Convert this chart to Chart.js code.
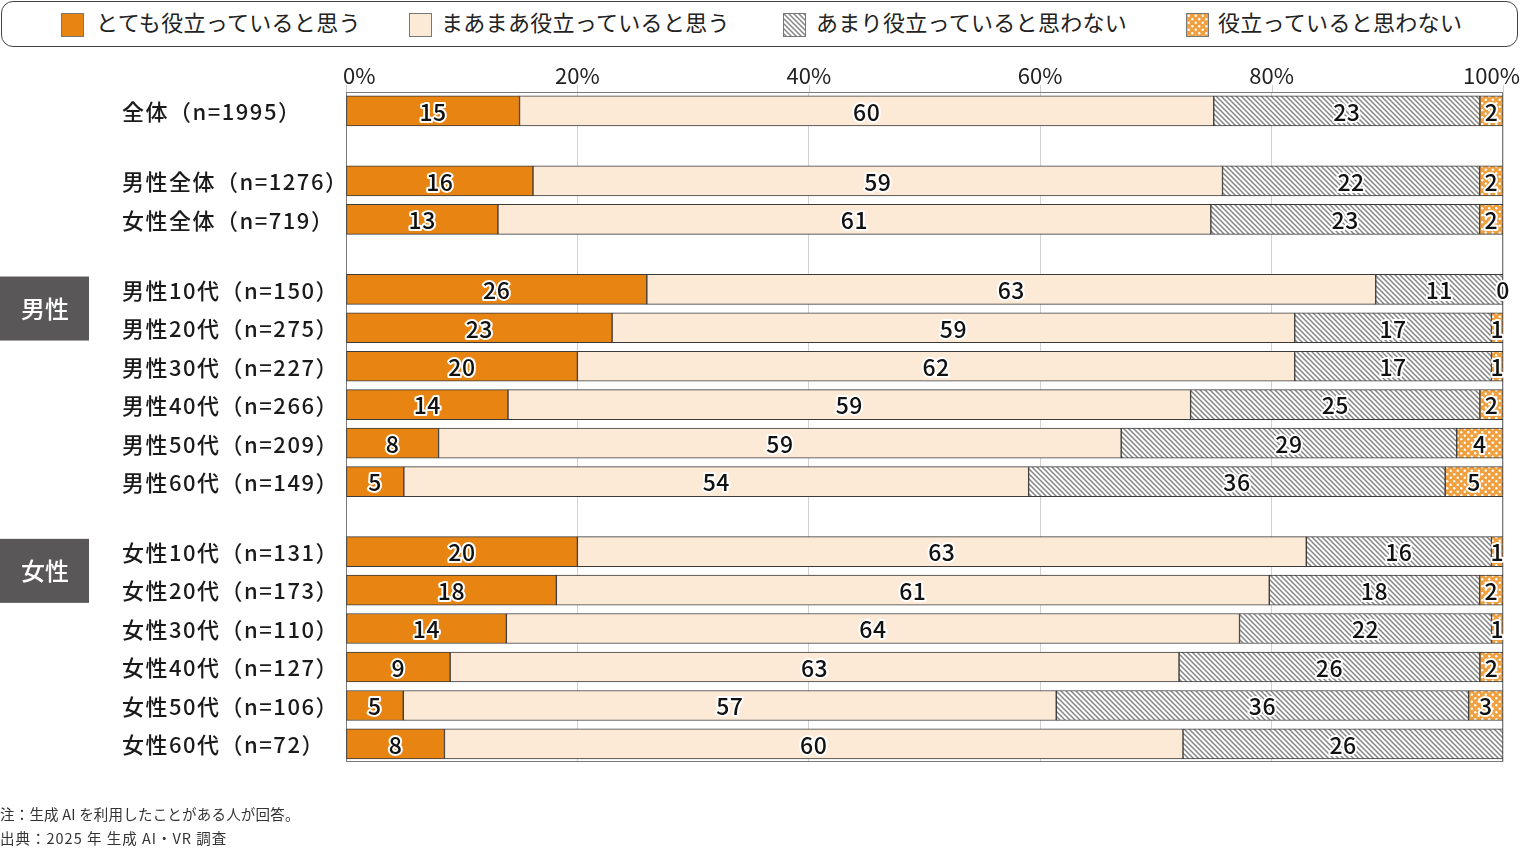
<!DOCTYPE html>
<html lang="ja">
<head>
<meta charset="utf-8">
<title>生成AIの役立ち度</title>
<script src="https://cdn.jsdelivr.net/npm/chart.js@4.4.1/dist/chart.umd.min.js"></script>
<style>
  body { margin: 0; background: #fff; font-family: "Noto Sans CJK JP", "Noto Sans", sans-serif; color: #222; }
  #wrap { position: absolute; left: 0; top: 0; width: 1521px; height: 848px; }
  #legend { position: absolute; left: 1px; top: 1px; width: 1515px; height: 44px; border: 1px solid #444; border-radius: 12px; background: #fff; }
  .sw { position: absolute; top: 11px; width: 21px; height: 22px; border: 1px solid #777; }
  .lt { position: absolute; top: 3px; font-size: 22px; line-height: 32px; white-space: nowrap; letter-spacing: 0.3px; }
  #note { position: absolute; left: 0; top: 802px; font-size: 14.5px; line-height: 24px; color: #333; letter-spacing: 0.2px; }
  #note span { letter-spacing: 1px; }
</style>
</head>
<body>
<div id="wrap"><canvas id="chart"></canvas></div>
<div id="legend"></div>
<div id="note">注：生成 AI を利用したことがある人が回答。<br><span>出典：2025 年 生成 AI・VR 調査</span></div>
<script>
// data (printed percentages, each row drawn as a share of its total)
const categories = [
  "全体（n=1995）",
  "男性全体（n=1276）", "女性全体（n=719）",
  "男性10代（n=150）", "男性20代（n=275）", "男性30代（n=227）",
  "男性40代（n=266）", "男性50代（n=209）", "男性60代（n=149）",
  "女性10代（n=131）", "女性20代（n=173）", "女性30代（n=110）",
  "女性40代（n=127）", "女性50代（n=106）", "女性60代（n=72）"
];
const seriesNames = ["とても役立っていると思う", "まあまあ役立っていると思う", "あまり役立っていると思わない", "役立っていると思わない"];
const veryUseful   = [15, 16, 13, 26, 23, 20, 14, 8, 5, 20, 18, 14, 9, 5, 8];
const fairlyUseful = [60, 59, 61, 63, 59, 62, 59, 59, 54, 63, 61, 64, 63, 57, 60];
const notMuch      = [23, 22, 23, 11, 17, 17, 25, 29, 36, 16, 18, 22, 26, 36, 26];
const notUseful    = [2, 2, 2, 0, 1, 1, 2, 4, 5, 1, 2, 1, 2, 3, null];
const xTicks = [0, 20, 40, 60, 80, 100];
const groups = [{ name: "男性", rows: [3, 4] }, { name: "女性", rows: [9, 10] }];

// rows after these indexes are followed by a gap
const gapAfter = [0, 2, 8];
const rowPos = [];
let p = 0;
categories.forEach((c, i) => {
  rowPos.push(p);
  p += 1;
  if (gapAfter.includes(i)) p += 0.82;
});

const FONT = '"Noto Sans CJK JP", "Noto Sans", sans-serif';

// fill patterns
function hatchPattern() {
  const c = document.createElement('canvas');
  c.width = c.height = 5;
  const g = c.getContext('2d');
  g.fillStyle = '#fff';
  g.fillRect(0, 0, 5, 5);
  g.strokeStyle = '#858585';
  g.lineWidth = 1.5;
  g.beginPath();
  g.moveTo(-1, -1); g.lineTo(6, 6);
  g.moveTo(-1, 4); g.lineTo(1, 6);
  g.moveTo(4, -1); g.lineTo(6, 1);
  g.stroke();
  return c;
}
function dotPattern() {
  const c = document.createElement('canvas');
  c.width = c.height = 7;
  const g = c.getContext('2d');
  g.fillStyle = '#F0A03E';
  g.fillRect(0, 0, 7, 7);
  g.fillStyle = '#fff';
  [[1.75, 1.75], [5.25, 5.25]].forEach(([x, y]) => {
    g.beginPath(); g.arc(x, y, 1.2, 0, Math.PI * 2); g.fill();
  });
  return c;
}
const ctx = document.getElementById('chart').getContext('2d');
const hatchCanvas = hatchPattern();
const dotCanvas = dotPattern();
const fills = ['#E88412', '#FDEAD6', ctx.createPattern(hatchCanvas, 'repeat'), ctx.createPattern(dotCanvas, 'repeat')];
const swatchBg = ['#E88412', '#FDEAD6', `url(${hatchCanvas.toDataURL()})`, `url(${dotCanvas.toDataURL()})`];

// legend
const legend = document.getElementById('legend');
const legendX = [[59, 94], [407, 439], [781, 814], [1184, 1216]];
seriesNames.forEach((name, i) => {
  const sw = document.createElement('div');
  sw.className = 'sw';
  sw.style.left = legendX[i][0] + 'px';
  sw.style.background = swatchBg[i];
  legend.appendChild(sw);
  const t = document.createElement('div');
  t.className = 'lt';
  t.style.left = legendX[i][1] + 'px';
  t.textContent = name;
  legend.appendChild(t);
});

const allSeries = [veryUseful, fairlyUseful, notMuch, notUseful];
const rowTotals = categories.map((c, j) => allSeries.reduce((s, vals) => s + (vals[j] || 0), 0));
const datasets = allSeries.map((vals, i) => ({
  label: seriesNames[i],
  data: vals.map((v, j) => ({ x: v === null ? null : v / rowTotals[j] * 100, y: rowPos[j] })),
  backgroundColor: fills[i],
  borderColor: '#3a3a3a',
  borderWidth: 1,
  borderSkipped: false,
  barThickness: 30
}));

// bar labels, axis labels, frame and group boxes
const extras = {
  id: 'extras',
  beforeDatasetsDraw(chart) {
    const { ctx, chartArea: a } = chart;
    ctx.save();
    ctx.strokeStyle = '#7a7a7a';
    ctx.lineWidth = 1;
    ctx.strokeRect(a.left + 0.5, a.top + 0.5, a.right - a.left - 1, a.bottom - a.top - 1);
    ctx.restore();
  },
  afterDatasetsDraw(chart) {
    const { ctx, chartArea: a } = chart;
    const xs = chart.scales.x, ys = chart.scales.y;
    ctx.save();
    ctx.font = '500 23px ' + FONT;
    ctx.letterSpacing = '0.5px';
    ctx.textAlign = 'center';
    ctx.textBaseline = 'middle';
    ctx.lineJoin = 'round';
    chart.data.datasets.forEach((ds, i) => {
      chart.getDatasetMeta(i).data.forEach((bar, j) => {
        const v = allSeries[i][j];
        if (v === null) return;
        const c = bar.getCenterPoint();
        ctx.strokeStyle = '#fff';
        ctx.lineWidth = 4;
        ctx.strokeText(String(v), c.x, c.y + 1);
        ctx.fillStyle = '#111';
        ctx.fillText(String(v), c.x, c.y + 1);
      });
    });
    // category labels
    ctx.font = '500 22px ' + FONT;
    ctx.letterSpacing = '1.5px';
    ctx.textAlign = 'left';
    ctx.fillStyle = '#1a1a1a';
    categories.forEach((c, j) => {
      ctx.fillText(c, 122, ys.getPixelForValue(rowPos[j]) + 1);
    });
    // top axis labels and tick marks
    ctx.font = '22px ' + FONT;
    ctx.letterSpacing = '0px';
    ctx.fillStyle = '#222';
    ctx.strokeStyle = '#cfcfcf';
    ctx.lineWidth = 1;
    xTicks.forEach(v => {
      const px = xs.getPixelForValue(v);
      ctx.beginPath();
      ctx.moveTo(Math.round(px) + 0.5, a.top - 7);
      ctx.lineTo(Math.round(px) + 0.5, a.top);
      ctx.stroke();
      const t = v + '%';
      const w = ctx.measureText(t).width;
      const left = Math.min(Math.max(px - w / 2, a.left - 3), chart.width - w - 1);
      ctx.fillText(t, left, a.top - 16);
    });
    // group boxes
    groups.forEach(g => {
      const cy = (ys.getPixelForValue(rowPos[g.rows[0]]) + ys.getPixelForValue(rowPos[g.rows[1]])) / 2;
      ctx.fillStyle = '#595757';
      ctx.fillRect(0, cy - 32, 89, 64);
      ctx.fillStyle = '#fff';
      ctx.font = '500 24px ' + FONT;
      ctx.textAlign = 'center';
      ctx.fillText(g.name, 45, cy);
    });
    ctx.restore();
  }
};

new Chart(ctx, {
  type: 'bar',
  data: { datasets },
  options: {
    indexAxis: 'y',
    responsive: true,
    maintainAspectRatio: false,
    animation: false,
    layout: { padding: { left: 122, right: 18, top: 50, bottom: 86 } },
    plugins: { legend: { display: false }, tooltip: { enabled: false } },
    scales: {
      x: {
        type: 'linear',
        position: 'top',
        stacked: true,
        min: 0,
        max: 100,
        ticks: { display: false, stepSize: 20 },
        grid: { color: '#d2d2d2', drawTicks: false },
        border: { display: false },
        afterFit: s => { s.height = 42; s.paddingLeft = 0; s.paddingRight = 0; }
      },
      y: {
        type: 'linear',
        stacked: true,
        reverse: true,
        offset: false,
        min: -0.49,
        max: rowPos[rowPos.length - 1] + 0.47,
        afterBuildTicks: s => { s.ticks = rowPos.map(v => ({ value: v })); },
        ticks: { display: false },
        grid: { display: false, offset: false },
        border: { display: false },
        afterFit: s => { s.width = 224; }
      }
    }
  },
  plugins: [extras]
});
</script>
</body>
</html>
